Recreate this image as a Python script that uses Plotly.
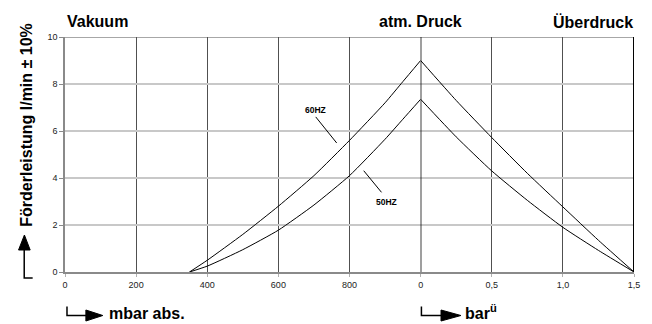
import plotly.graph_objects as go

# Vacuum side (absolute pressure, mbar)
vac_mbar = [350, 400, 500, 600, 700, 800, 900, 950, 1000]
vac_60hz = [0.0, 0.5, 1.6, 2.8, 4.1, 5.6, 7.2, 8.1, 9.0]
vac_50hz = [0.0, 0.25, 0.95, 1.78, 2.85, 4.1, 5.65, 6.5, 7.35]

# Overpressure side (bar gauge)
over_bar = [0.0, 0.25, 0.5, 0.75, 1.0, 1.25, 1.5]
over_60hz = [9.0, 7.3, 5.72, 4.2, 2.77, 1.35, 0.0]
over_50hz = [7.35, 5.75, 4.3, 3.05, 1.9, 0.92, 0.0]

mbar_ticks = [0, 200, 400, 600, 800]
bar_ticks = [0, 0.5, 1.0, 1.5]
bar_tick_text = ["0", "0,5", "1,0", "1,5"]
y_ticks = [0, 2, 4, 6, 8, 10]

FONT = "Liberation Sans, Arial, sans-serif"
W, H = 652, 324
L, R, T, B = 65, 15, 37, 52
PW, PH = W - L - R, H - T - B


def px(xp):
    return (xp - L) / PW


def py(yp):
    return (H - B - yp) / PH


fig = go.Figure()
line_style = dict(color="black", width=1, shape="spline", smoothing=0.5)
fig.add_trace(go.Scatter(x=vac_mbar, y=vac_60hz, mode="lines", line=line_style, xaxis="x", yaxis="y"))
fig.add_trace(go.Scatter(x=vac_mbar, y=vac_50hz, mode="lines", line=line_style, xaxis="x", yaxis="y"))
fig.add_trace(go.Scatter(x=over_bar, y=over_60hz, mode="lines", line=line_style, xaxis="x2", yaxis="y"))
fig.add_trace(go.Scatter(x=over_bar, y=over_50hz, mode="lines", line=line_style, xaxis="x2", yaxis="y"))

tickfont = dict(family=FONT, size=9, color="#222")
common_x = dict(
    showgrid=True, gridcolor="#505050", gridwidth=1,
    showline=True, linecolor="#8a8a8a", linewidth=2,
    ticks="outside", ticklen=3, tickcolor="#b0b0b0",
    tickfont=tickfont, zeroline=False, fixedrange=True,
)

shapes = []
# 0 bar (atmospheric) line
shapes.append(dict(type="line", xref="x2", yref="y", x0=0, x1=0, y0=0, y1=10,
                   line=dict(color="black", width=1.5), layer="above"))
# right border at 1,5 bar
shapes.append(dict(type="line", xref="x2", yref="y", x0=1.5, x1=1.5, y0=0, y1=10,
                   line=dict(color="black", width=2), layer="above"))
# top border
shapes.append(dict(type="line", xref="paper", yref="y", x0=0, x1=1, y0=10, y1=10,
                   line=dict(color="#505050", width=1.2), layer="below"))

# leader lines for the frequency labels
shapes.append(dict(type="line", xref="x", yref="y", x0=705, y0=6.6, x1=764, y1=5.49,
                   line=dict(color="black", width=1)))
shapes.append(dict(type="line", xref="x", yref="y", x0=840, y0=4.31, x1=890, y1=3.39,
                   line=dict(color="black", width=1)))

# y-title arrow (foot, stem, head)
shapes.append(dict(type="path", xref="paper", yref="paper",
                   path=f"M {px(32.5)} {py(278)} L {px(24)} {py(278)} L {px(24)} {py(249)}",
                   line=dict(color="black", width=1.5)))
shapes.append(dict(type="path", xref="paper", yref="paper",
                   path=f"M {px(18.3)} {py(250)} L {px(24.2)} {py(235)} L {px(30)} {py(250)} Z",
                   fillcolor="black", line=dict(color="black", width=1)))

# bottom arrows
for x0, xs, xt in [(67, 86, 103), (423.3, 443, 463)]:
    shapes.append(dict(type="path", xref="paper", yref="paper",
                       path=f"M {px(x0)} {py(306.5)} L {px(x0)} {py(315.5)} L {px(xs + 1)} {py(315.5)}",
                       line=dict(color="black", width=1.5)))
    shapes.append(dict(type="path", xref="paper", yref="paper",
                       path=f"M {px(xs)} {py(310)} L {px(xt)} {py(315.5)} L {px(xs)} {py(321)} Z",
                       fillcolor="black", line=dict(color="black", width=1)))

bold = dict(family=FONT, size=16, color="black")
annotations = [
    dict(text="<b>Vakuum</b>", xref="paper", yref="paper", x=px(65), y=py(21.7),
         xanchor="left", yanchor="middle", showarrow=False, font=bold),
    dict(text="<b>atm. Druck</b>", xref="paper", yref="paper", x=px(422), y=py(21.7),
         xanchor="center", yanchor="middle", showarrow=False, font=bold),
    dict(text="<b>Überdruck</b>", xref="paper", yref="paper", x=px(638), y=py(21.7),
         xanchor="right", yanchor="middle", showarrow=False, font=bold),
    dict(text="<b>Förderleistung l/min ± 10%</b>", xref="paper", yref="paper",
         x=px(25.5), y=py(125), textangle=-90, xanchor="center", yanchor="middle",
         showarrow=False, font=bold),
    dict(text="<b>mbar abs.</b>", xref="paper", yref="paper", x=px(107), y=py(313),
         xanchor="left", yanchor="middle", showarrow=False, font=bold),
    dict(text="<b>bar<sup>ü</sup></b>", xref="paper", yref="paper", x=px(465), y=py(312),
         xanchor="left", yanchor="middle", showarrow=False, font=bold),
    dict(text="<b>60HZ</b>", xref="x", yref="y", x=705, y=6.89,
         xanchor="center", yanchor="middle", showarrow=False,
         font=dict(family=FONT, size=8.5, color="black")),
    dict(text="<b>50HZ</b>", xref="x", yref="y", x=903, y=2.98,
         xanchor="center", yanchor="middle", showarrow=False,
         font=dict(family=FONT, size=8.5, color="black")),
]

fig.update_layout(
    width=W, height=H,
    margin=dict(l=L, r=R, t=T, b=B, pad=0),
    paper_bgcolor="white", plot_bgcolor="white",
    showlegend=False,
    xaxis=dict(domain=[0, 0.625], range=[0, 1000], tickvals=mbar_ticks,
               ticktext=[str(v) for v in mbar_ticks], anchor="y", **common_x),
    xaxis2=dict(domain=[0.625, 1], range=[0, 1.5], tickvals=bar_ticks,
                ticktext=bar_tick_text, anchor="y", **common_x),
    yaxis=dict(range=[0, 10], tickvals=y_ticks, showgrid=True, gridcolor="#c8c8c8",
               gridwidth=1.5, showline=True, linecolor="#8a8a8a", linewidth=1.5,
               ticks="outside", ticklen=4, tickcolor="#8a8a8a", tickfont=tickfont,
               zeroline=False, fixedrange=True),
    shapes=shapes,
    annotations=annotations,
)

fig.write_html("out.html")
